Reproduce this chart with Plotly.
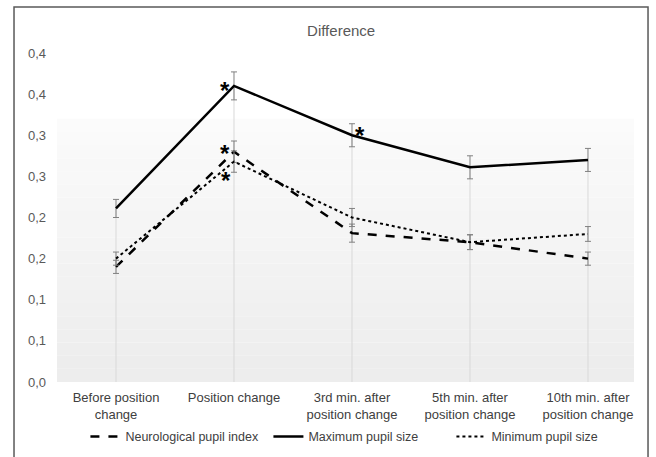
import plotly.graph_objects as go

categories = ["Before position<br>change", "Position change", "3rd min. after<br>position change",
              "5th min. after<br>position change", "10th min. after<br>position change"]
npi = [0.140, 0.280, 0.181, 0.170, 0.150]
npi_err = [0.008, 0.013, 0.011, 0.009, 0.008]
max_size = [0.211, 0.360, 0.300, 0.261, 0.270]
max_err = [0.011, 0.017, 0.014, 0.014, 0.014]
min_size = [0.150, 0.268, 0.200, 0.170, 0.180]
min_err = [0.008, 0.013, 0.011, 0.009, 0.009]
y_tickvals = [0.0, 0.05, 0.10, 0.15, 0.20, 0.25, 0.30, 0.35, 0.40]
y_ticktext = ["0,0", "0,1", "0,1", "0,2", "0,2", "0,3", "0,3", "0,4", "0,4"]
# significance marks: (series, category index)
stars = [("max", 1), ("npi", 1), ("min", 1), ("max", 2)]

xi = list(range(len(categories)))
FONT = "Liberation Sans, Arial, sans-serif"

fig = go.Figure()

# drop lines from the top series to the axis
dx, dy = [], []
for i in xi:
    dx += [i, i, None]
    dy += [0, max(npi[i], max_size[i], min_size[i]), None]
fig.add_trace(go.Scatter(x=dx, y=dy, mode="lines", line=dict(color="#d9d9d9", width=1),
                         showlegend=False, hoverinfo="skip"))

err_style = dict(type="data", color="#808080", thickness=1, width=3)
fig.add_trace(go.Scatter(x=xi, y=npi, mode="lines", name="Neurological pupil index",
                         line=dict(color="black", width=2.5, dash="dash"),
                         error_y=dict(array=npi_err, **err_style)))
fig.add_trace(go.Scatter(x=xi, y=max_size, mode="lines", name="Maximum pupil size",
                         line=dict(color="black", width=2.5),
                         error_y=dict(array=max_err, **err_style)))
fig.add_trace(go.Scatter(x=xi, y=min_size, mode="lines", name="Minimum pupil size",
                         line=dict(color="black", width=2, dash="dot"),
                         error_y=dict(array=min_err, **err_style)))

series = {"npi": npi, "max": max_size, "min": min_size}
offsets = {("max", 1): (-9, 1), ("npi", 1): (-9, 4), ("min", 1): (-8, -13), ("max", 2): (8, 6)}
for key, i in stars:
    xs, ys = offsets[(key, i)]
    fig.add_annotation(x=i, y=series[key][i], text="<b>*</b>", showarrow=False,
                       xshift=xs, yshift=ys - 6, font=dict(size=24, color="black", family=FONT))

# subtle vertical gradient background in the plot area
n = 20
for k in range(n):
    c = int(237 + (251 - 237) * k / (n - 1))
    fig.add_shape(type="rect", xref="x domain", yref="y domain", x0=0, x1=1,
                  y0=0.8 * k / n, y1=0.8 * (k + 1) / n, layer="below",
                  line=dict(width=0), fillcolor=f"rgb({c},{c},{c})")

# outer frame
fig.add_shape(type="rect", xref="paper", yref="paper", x0=-0.0745, x1=1.0243,
              y0=-0.4, y1=1.14, line=dict(color="#595959", width=1.5), layer="above")

fig.update_layout(
    width=656, height=457,
    margin=dict(l=57, r=22, t=53, b=75, autoexpand=False),
    paper_bgcolor="white", plot_bgcolor="white",
    font=dict(family=FONT, size=13, color="#595959"),
    title=dict(text="Difference", x=0.52, xanchor="center", y=1 - 31 / 457, yanchor="middle",
               font=dict(size=15, color="#595959", family=FONT)),
    showlegend=True,
    legend=dict(orientation="h", x=0.525, xanchor="center", y=-0.167, yanchor="middle",
                entrywidth=138, entrywidthmode="pixels",
                font=dict(size=12.5, color="#404040", family=FONT), bgcolor="rgba(0,0,0,0)"),
)
fig.update_xaxes(range=[-0.5, 4.39], tickvals=xi, ticktext=categories, showgrid=False,
                 zeroline=False, showline=False, ticks="", automargin=False, ticklabelstandoff=6,
                 tickfont=dict(size=13, color="#404040", family=FONT))
fig.update_yaxes(range=[0, 0.40], tickvals=y_tickvals, ticktext=y_ticktext, showgrid=False,
                 zeroline=False, showline=False, ticks="", ticklabelstandoff=10, automargin=False,
                 tickfont=dict(size=13, color="#595959", family=FONT))

fig.write_html("out.html", config={"displayModeBar": False},
               post_script="document.body.style.margin='0';document.body.style.overflow='hidden';")
